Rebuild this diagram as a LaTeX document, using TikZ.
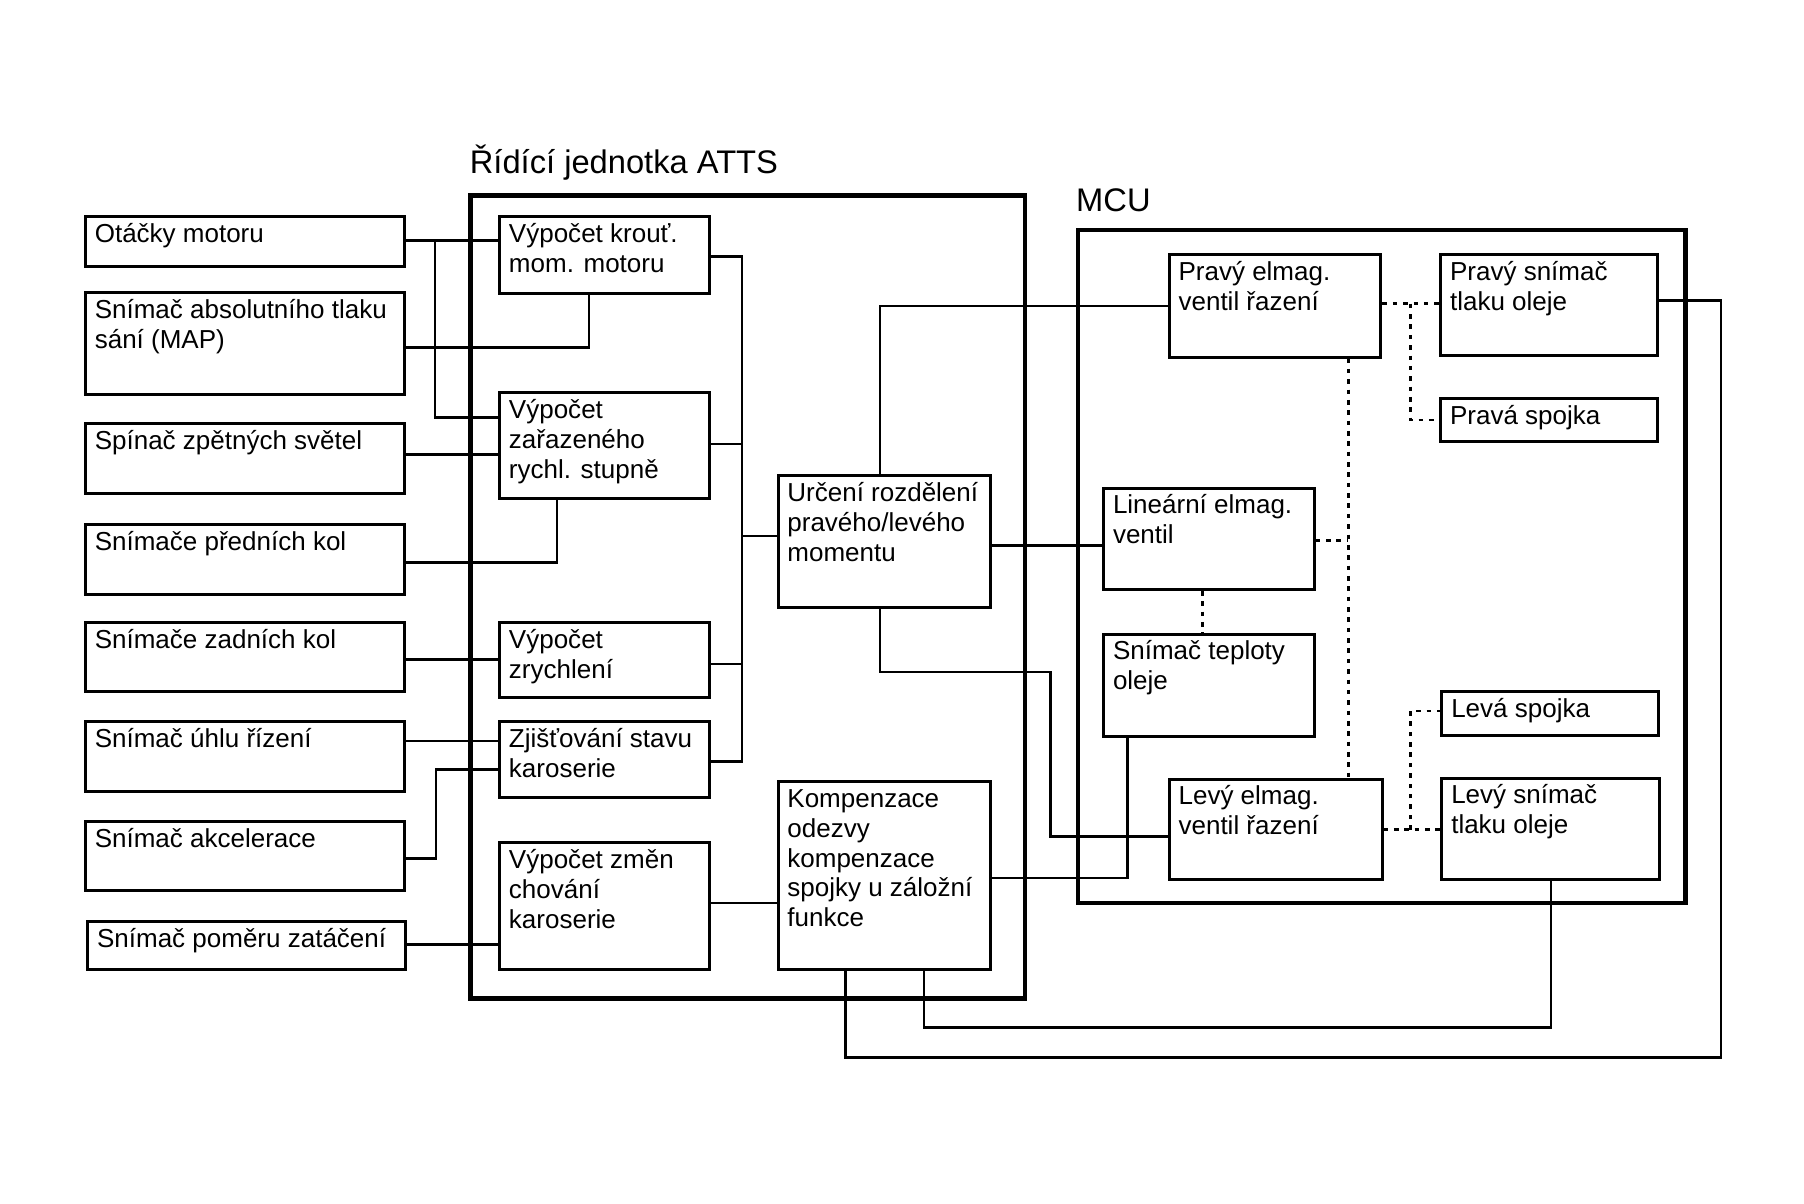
\documentclass[tikz,border=0pt]{standalone}
\usepackage{fontspec}
\setmainfont{Liberation Sans}
\newcommand\blk[6]{%
  \node[blk, minimum width=#4*0.5pt, minimum height=#5*0.5pt] (#1) at (#2,#3) {};
  \node[txt] (#1t) at ([xshift=4.5pt, yshift=-2.5pt]#1.north west) {\strut #6};}
\begin{document}
\begin{tikzpicture}[x=0.5pt, y=-0.5pt,
  blk/.style={draw, line width=1.3pt, anchor=north west, inner sep=0pt},
  frame/.style={draw, line width=2pt, anchor=north west, inner sep=0pt},
  txt/.style={anchor=north west, inner sep=0pt, align=left, font=\fontsize{11.3}{13}\selectfont},
  ttl/.style={anchor=base west, inner sep=0pt, font=\fontsize{14.2}{16}\selectfont},
  wire/.style={line width=1.1pt},
  dotw/.style={line width=1.2pt, dash pattern=on 2pt off 2.5pt}]
\useasboundingbox (0,0) rectangle (1568,1046);
% frames
\node[frame, minimum width=482*0.5pt, minimum height=698*0.5pt] (atts) at (407,168) {};
\node[frame, minimum width=528*0.5pt, minimum height=585*0.5pt] (mcu) at (935,198) {};
\node[ttl] (attsl) at (408,151) {Řídící jednotka ATTS};
\node[ttl] (mcul) at (935,184) {MCU};
% left column
\blk{ota}{73}{187}{277}{43}{Otáčky motoru}
\blk{map}{73}{253}{277}{89}{Snímač absolutního tlaku\\sání (MAP)}
\blk{spi}{73}{367}{277}{61}{Spínač zpětných světel}
\blk{pre}{73}{455}{277}{60}{Snímače předních kol}
\blk{zad}{73}{540}{277}{60}{Snímače zadních kol}
\blk{uhl}{73}{626}{277}{61}{Snímač úhlu řízení}
\blk{akc}{73}{713}{277}{60}{Snímač akcelerace}
\blk{pom}{75}{800}{276}{41}{Snímač poměru zatáčení}
% middle column
\blk{mom}{433}{187}{182}{67}{Výpočet krouť.\\mom. motoru}
\blk{zar}{433}{340}{182}{92}{Výpočet\\zařazeného\\rychl. stupně}
\blk{zry}{433}{540}{182}{65}{Výpočet\\zrychlení}
\blk{kar}{433}{626}{182}{66}{Zjišťování stavu\\karoserie}
\blk{chv}{433}{731}{182}{110}{Výpočet změn\\chování\\karoserie}
% right column of ATTS
\blk{roz}{675}{412}{185}{115}{Určení rozdělení\\pravého/levého\\momentu}
\blk{kom}{675}{678}{185}{163}{Kompenzace\\odezvy\\kompenzace\\spojky u záložní\\funkce}
% MCU
\blk{pev}{1015}{220}{184}{89}{Pravý elmag.\\ventil řazení}
\blk{pst}{1251}{220}{188}{88}{Pravý snímač\\tlaku oleje}
\blk{psp}{1251}{345}{188}{37}{Pravá spojka}
\blk{lin}{958}{423}{183}{88}{Lineární elmag.\\ventil}
\blk{tep}{958}{550}{183}{89}{Snímač teploty\\oleje}
\blk{lsp}{1252}{600}{188}{38}{Levá spojka}
\blk{lev}{1015}{676}{185}{87}{Levý elmag.\\ventil řazení}
\blk{lst}{1252}{675}{189}{88}{Levý snímač\\tlaku oleje}
% inputs
\draw[wire] (ota.east |- 0,209) -- (mom.west |- 0,209);
\draw[wire] (378,209) |- (zar.west |- 0,363);
\draw[wire] (map.east |- 0,302) -| (mom.south -| 512,0);
\draw[wire] (spi.east |- 0,395) -- (zar.west |- 0,395);
\draw[wire] (pre.east |- 0,489) -| (zar.south -| 484,0);
\draw[wire] (zad.east |- 0,573) -- (zry.west |- 0,573);
\draw[wire] (uhl.east |- 0,644) -- (kar.west |- 0,644);
\draw[wire] (akc.east |- 0,746) -| (379,669) -- (kar.west |- 0,669);
\draw[wire] (pom.east |- 0,821) -- (chv.west |- 0,821);
% bus to distribution
\draw[wire] (mom.east |- 0,223) -| (645,662) -- (kar.east |- 0,662);
\draw[wire] (zar.east |- 0,386) -- (645,386);
\draw[wire] (zry.east |- 0,577) -- (645,577);
\draw[wire] (645,466) -- (roz.west |- 0,466);
\draw[wire] (chv.east |- 0,785) -- (kom.west |- 0,785);
% outputs
\draw[wire] (roz.north -| 765,0) |- (pev.west |- 0,266);
\draw[wire] (roz.east |- 0,474) -- (lin.west |- 0,474);
\draw[wire] (roz.south -| 765,0) |- (913,584) |- (lev.west |- 0,727);
\draw[wire] (kom.east |- 0,763) -| (tep.south -| 980,0);
\draw[wire] (kom.south -| 735,0) |- (1496,919) |- (pst.east |- 0,261);
\draw[wire] (kom.south -| 803,0) |- (1348,893) -- (lst.south -| 1348,0);
% dotted links in MCU
\draw[dotw] (pev.east |- 0,264) -- (pst.west |- 0,264);
\draw[dotw] (1226,264) |- (psp.west |- 0,365);
\draw[dotw] (pev.south -| 1172,0) -- (lev.north -| 1172,0);
\draw[dotw] (lin.east |- 0,470) -- (1172,470);
\draw[dotw] (lin.south -| 1045,0) -- (tep.north -| 1045,0);
\draw[dotw] (lev.east |- 0,721) -- (lst.west |- 0,721);
\draw[dotw] (1226,721) |- (lsp.west |- 0,618);
\end{tikzpicture}
\end{document}
